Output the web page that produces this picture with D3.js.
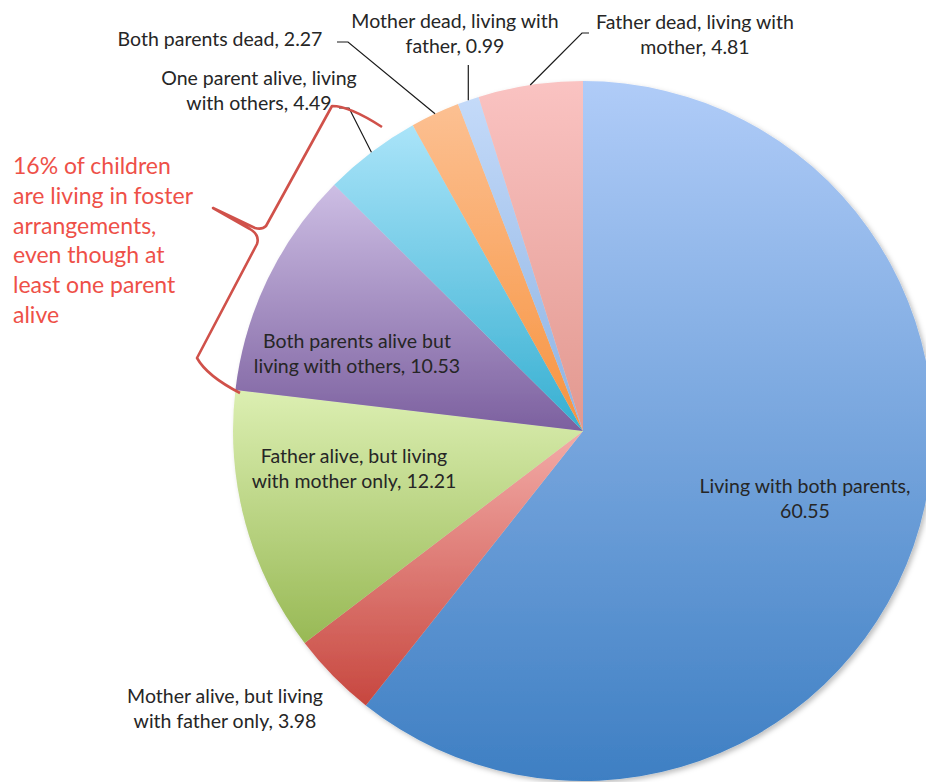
<!DOCTYPE html>
<html>
<head>
<meta charset="utf-8">
<script src="https://cdn.jsdelivr.net/npm/d3@7"></script>
<style>
  body { margin: 0; background: #fff; }
  svg { display: block; font-family: Lato, "Open Sans", sans-serif; }
</style>
</head>
<body>
<svg width="926" height="782"></svg>
<script>
// data
const categories = [
  "Living with both parents",
  "Mother alive, but living with father only",
  "Father alive, but living with mother only",
  "Both parents alive but living with others",
  "One parent alive, living with others",
  "Both parents dead",
  "Mother dead, living with father",
  "Father dead, living with mother"
];
const values = [60.55, 3.98, 12.21, 10.53, 4.49, 2.27, 0.99, 4.81];

// gradient colours (top -> bottom of each slice)
const colorsTop    = ["#b0ccf8", "#f3aca8", "#dcefb2", "#cdbee4", "#aae4f9", "#fcc092", "#c4daf9", "#fac3c2"];
const colorsBottom = ["#3e7fc3", "#c7473f", "#98b955", "#7c609f", "#36afd1", "#f7933f", "#8cb2e2", "#e2988f"];

const noteLines = ["16% of children", "are living in foster", "arrangements,", "even though at", "least one parent", "alive"];

// label placement (words = how many words go on the first line)
const labelLayout = [
  { x: 805, y: 493, words: 4 },
  { x: 225, y: 703, words: 4 },
  { x: 354, y: 463, words: 4 },
  { x: 357, y: 348, words: 4 },
  { x: 259, y: 85,  words: 4, leader: [[349, 108], [339, 108]] },
  { x: 220, y: 46,  words: 99, leader: [[348, 42], [337, 42]] },
  { x: 455, y: 28,  words: 4, leader: [[null, 65]] },
  { x: 695, y: 29,  words: 4, leader: [[582, 33], [589, 33]] }
];

const svg = d3.select('svg');
const defs = svg.append('defs');
const cx = 583, cy = 431, radius = 350;

defs.append('filter').attr('id', 'shadow')
    .attr('x', '-10%').attr('y', '-10%').attr('width', '120%').attr('height', '120%')
  .append('feDropShadow')
    .attr('dx', 2.5).attr('dy', 2.5).attr('stdDeviation', 2.5)
    .attr('flood-color', '#000').attr('flood-opacity', 0.25);

categories.forEach((c, i) => {
    const grad = defs.append('linearGradient')
        .attr('id', 'grad' + i)
        .attr('x1', 0).attr('y1', 0).attr('x2', 0).attr('y2', 1);
    grad.append('stop').attr('offset', '0%').attr('stop-color', colorsTop[i]);
    grad.append('stop').attr('offset', '100%').attr('stop-color', colorsBottom[i]);
});

const pie = d3.pie().sort(null).value(d => d.value);
const arcs = pie(categories.map((c, i) => ({ name: c, value: values[i], i })));

const arc = d3.arc().innerRadius(0).outerRadius(radius);
const edge = d3.arc().innerRadius(radius).outerRadius(radius);

const g = svg.append('g').attr('transform', `translate(${cx},${cy})`);

g.append('g').attr('filter', 'url(#shadow)')
  .selectAll('path')
  .data(arcs)
  .enter().append('path')
    .attr('d', arc)
    .attr('fill', d => `url(#grad${d.data.i})`);

// leader lines
const fmt = d3.format('.2f');
arcs.forEach(d => {
    const lay = labelLayout[d.data.i];
    if (!lay.leader) return;
    const p = edge.centroid(d);
    const pts = [[p[0] + cx, p[1] + cy]];
    lay.leader.forEach(q => pts.push([q[0] === null ? p[0] + cx : q[0], q[1]]));
    svg.append('path')
        .attr('d', d3.line()(pts))
        .attr('fill', 'none')
        .attr('stroke', '#1a1a1a')
        .attr('stroke-width', 1.2);
});

// data labels
arcs.forEach(d => {
    const lay = labelLayout[d.data.i];
    const words = `${d.data.name}, ${fmt(d.data.value)}`.split(' ');
    const lines = [words.slice(0, lay.words).join(' '), words.slice(lay.words).join(' ')].filter(s => s);
    const t = svg.append('text')
        .attr('text-anchor', 'middle')
        .attr('font-size', 19.5)
        .attr('fill', '#262626');
    lines.forEach((s, k) => {
        t.append('tspan').attr('x', lay.x).attr('y', lay.y + k * 24.5).text(s);
    });
});

// annotation
const note = svg.append('text')
    .attr('font-size', 23)
    .attr('fill', '#ee5048');
noteLines.forEach((s, k) => {
    note.append('tspan').attr('x', 13).attr('y', 174 + k * 29.8).text(s);
});

svg.append('path')
    .attr('d', 'M382,127 C362,114 346,106 332,106 L266,226 Q262,230 255,228 L213,208 L250,229 Q260,235 257,244 L197,358 Q207,376 240,393')
    .attr('fill', 'none')
    .attr('stroke', '#d0514a')
    .attr('stroke-width', 2.6)
    .attr('stroke-linejoin', 'round');
</script>
</body>
</html>
